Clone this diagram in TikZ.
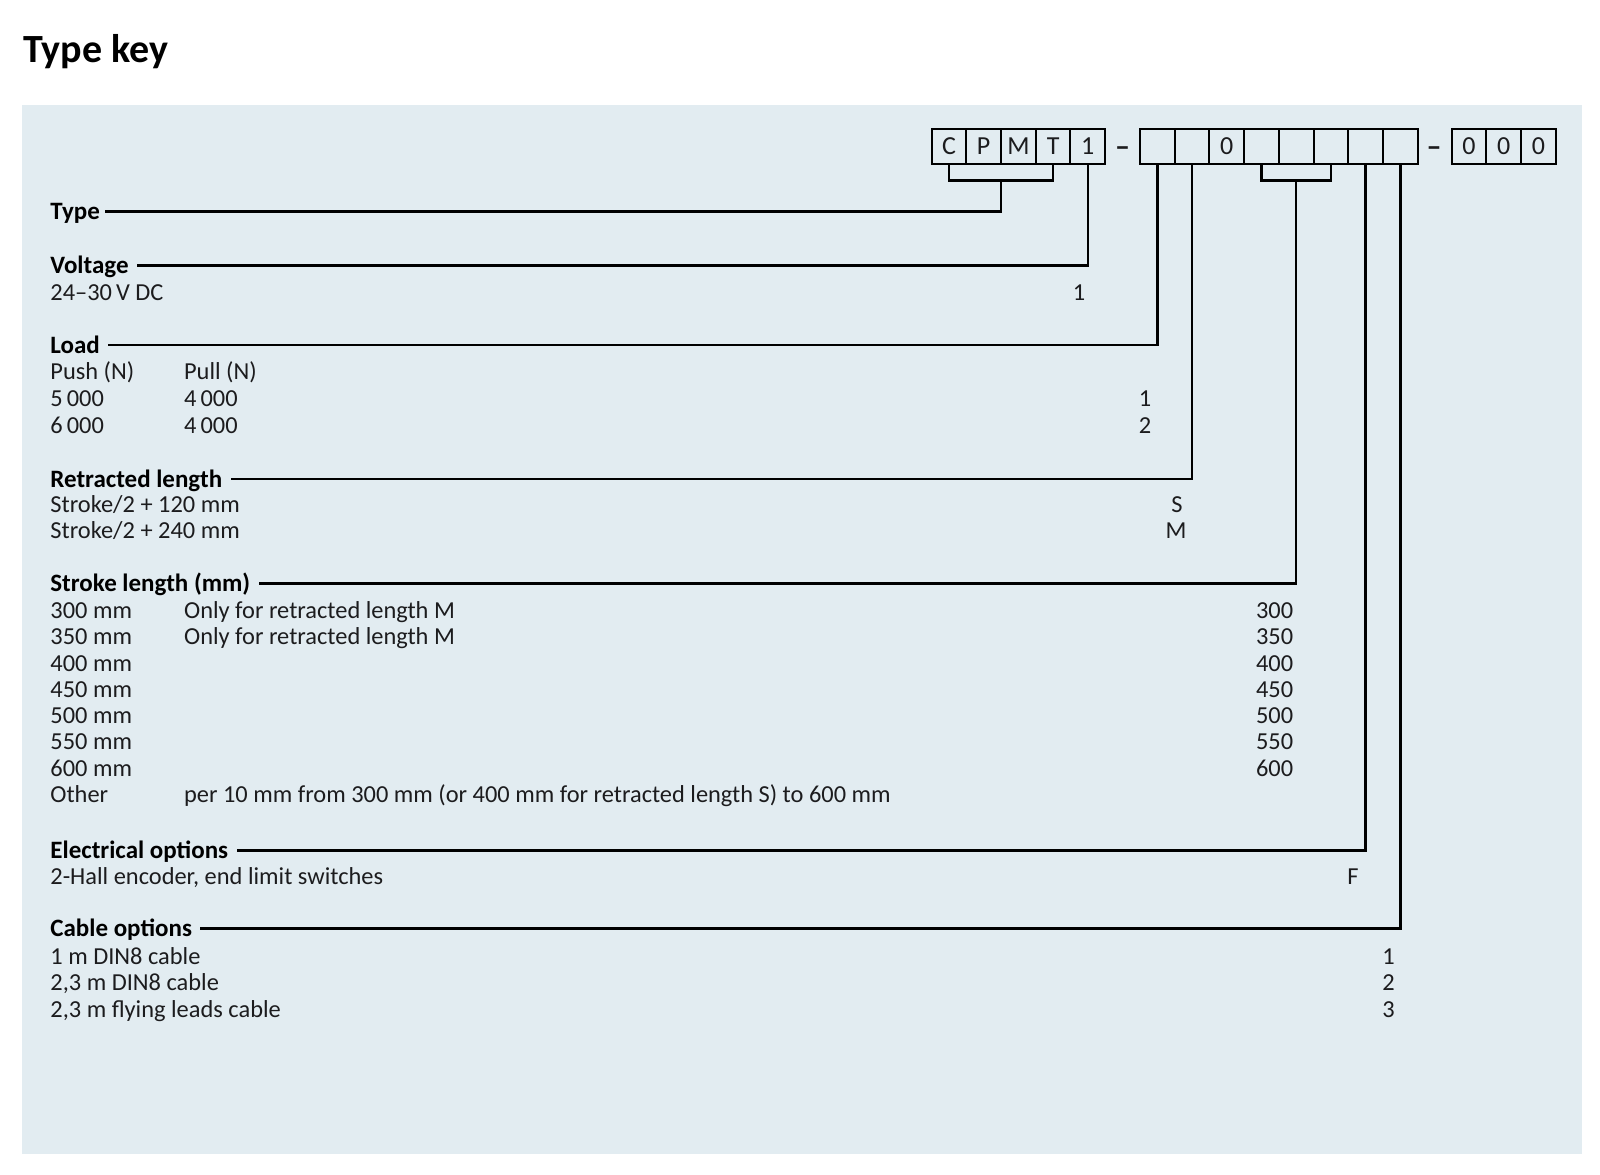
\documentclass[tikz,border=0pt]{standalone}
\usepackage{fontspec}
\setmainfont{Carlito}
\usetikzlibrary{positioning,calc}
\definecolor{keybg}{RGB}{226,236,241}
\definecolor{keyink}{RGB}{28,28,30}

\begin{document}
\begin{tikzpicture}[x=0.5pt,y=-0.5pt,
% Node styles
 cell/.style={draw, line width=1pt, minimum width=17.35pt, minimum height=17.5pt,
 inner sep=0pt, outer sep=0pt, text=keyink, font=\fontsize{13}{13}\selectfont},
 head/.style={anchor=west, inner sep=0pt, text height=8pt, text depth=0pt,
 text=black, font=\fontsize{12.5}{13}\selectfont\bfseries},
 item/.style={anchor=west, inner sep=0pt, text height=8pt, text depth=0pt,
 text=keyink, font=\fontsize{12.2}{13}\selectfont},
 code/.style={item, anchor=center},
 coderight/.style={item, anchor=east},
 sepdash/.style={code, font=\fontsize{15}{15}\selectfont\bfseries},
% Edge styles
 link/.style={draw, line width=1.25pt, black}
]
\useasboundingbox (0,0) rectangle (1600,1174);
\fill[keybg] (22,105) rectangle (1582,1154);

\node[anchor=base west, inner sep=0pt, font=\fontsize{20}{24}\selectfont\bfseries] (title) at (23,62) {Type key};

% Code boxes
\node[cell] (c1) at (949,146.5) {C};
\node[cell, right=0pt of c1] (c2) {P};
\node[cell, right=0pt of c2] (c3) {M};
\node[cell, right=0pt of c3] (c4) {T};
\node[cell, right=0pt of c4] (c5) {1};
\node[sepdash] (dash1) at (1122.7,148) {–};
\node[cell] (d1) at (1157.4,146.5) {};
\node[cell, right=0pt of d1] (d2) {};
\node[cell, right=0pt of d2] (d3) {0};
\node[cell, right=0pt of d3] (d4) {};
\node[cell, right=0pt of d4] (d5) {};
\node[cell, right=0pt of d5] (d6) {};
\node[cell, right=0pt of d6] (d7) {};
\node[cell, right=0pt of d7] (d8) {};
\node[sepdash] (dash2) at (1434,148) {–};
\node[cell] (e1) at (1469,146.5) {0};
\node[cell, right=0pt of e1] (e2) {0};
\node[cell, right=0pt of e2] (e3) {0};

% Headings
\node[head] (type) at (50,211.5) {Type};
\node[head] (voltage) at (50,265.5) {Voltage};
\node[head] (load) at (50,345) {Load};
\node[head] (retracted) at (50,479) {Retracted length};
\node[head] (stroke) at (50,583.5) {Stroke length (mm)};
\node[head] (electrical) at (50,850.7) {Electrical options};
\node[head] (cable) at (50,928.7) {Cable options};

% Connectors
\coordinate (typefork) at ($(c2.south east)+(0,16.7)$);
\coordinate (strokefork) at ($(d5.south)+(0,16.7)$);
\draw[link] (c1.south) |- (typefork) -| (c4.south);
\draw[link] (typefork) |- ([xshift=2.5pt]type.east);
\draw[link] (c5.south) |- ([xshift=4pt]voltage.east);
\draw[link] (d1.south) |- ([xshift=4pt]load.east);
\draw[link] (d2.south) |- ([xshift=4pt]retracted.east);
\draw[link] (d4.south) |- (strokefork) -| (d6.south);
\draw[link] (strokefork) |- ([xshift=4pt]stroke.east);
\draw[link] (d7.south) |- ([xshift=4pt]electrical.east);
\draw[link] (d8.south) |- ([xshift=4pt]cable.east);

% Voltage
\node[item] (volt1) at (50,292) {24–30\,V DC};
\node[code] (voltcode) at (1079,292) {1};

% Load
\node[item] (push) at (50,371.5) {Push (N)};
\node[item] (pull) at (183.7,371.5) {Pull (N)};
\node[item] (push1) at (50,398) {5\,000};
\node[item] (pull1) at (183.7,398) {4\,000};
\node[item] (push2) at (50,425) {6\,000};
\node[item] (pull2) at (183.7,425) {4\,000};
\node[code] (loadcode1) at (1145,398) {1};
\node[code] (loadcode2) at (1145,425) {2};

% Retracted length
\node[item] (ret1) at (50,504) {Stroke/2 + 120 mm};
\node[item] (ret2) at (50,530.5) {Stroke/2 + 240 mm};
\node[code] (retcode1) at (1177,504) {S};
\node[code] (retcode2) at (1176,530.5) {M};

% Stroke length
\node[item] (st1) at (50,610.5) {300 mm};
\node[item] (st2) at (50,636.7) {350 mm};
\node[item] (st3) at (50,663) {400 mm};
\node[item] (st4) at (50,689.2) {450 mm};
\node[item] (st5) at (50,715.5) {500 mm};
\node[item] (st6) at (50,741.7) {550 mm};
\node[item] (st7) at (50,768) {600 mm};
\node[item] (st8) at (50,794.5) {Other};
\node[item] (stnote1) at (183.7,610.5) {Only for retracted length M};
\node[item] (stnote2) at (183.7,636.7) {Only for retracted length M};
\node[item] (stnote8) at (183.7,794.5) {per 10 mm from 300 mm (or 400 mm for retracted length S) to 600 mm};
\node[coderight] (stcode1) at (1293.5,610.5) {300};
\node[coderight] (stcode2) at (1293.5,636.7) {350};
\node[coderight] (stcode3) at (1293.5,663) {400};
\node[coderight] (stcode4) at (1293.5,689.2) {450};
\node[coderight] (stcode5) at (1293.5,715.5) {500};
\node[coderight] (stcode6) at (1293.5,741.7) {550};
\node[coderight] (stcode7) at (1293.5,768) {600};

% Electrical options
\node[item] (el1) at (50,876.6) {2-Hall encoder, end limit switches};
\node[code] (elcode1) at (1353,876.6) {F};

% Cable options
\node[item] (cab1) at (50,956) {1 m DIN8 cable};
\node[item] (cab2) at (50,982.5) {2,3 m DIN8 cable};
\node[item] (cab3) at (50,1009) {2,3 m flying leads cable};
\node[coderight] (cabcode1) at (1395,956) {1};
\node[coderight] (cabcode2) at (1395,982.5) {2};
\node[coderight] (cabcode3) at (1395,1009) {3};
\end{tikzpicture}
\end{document}
